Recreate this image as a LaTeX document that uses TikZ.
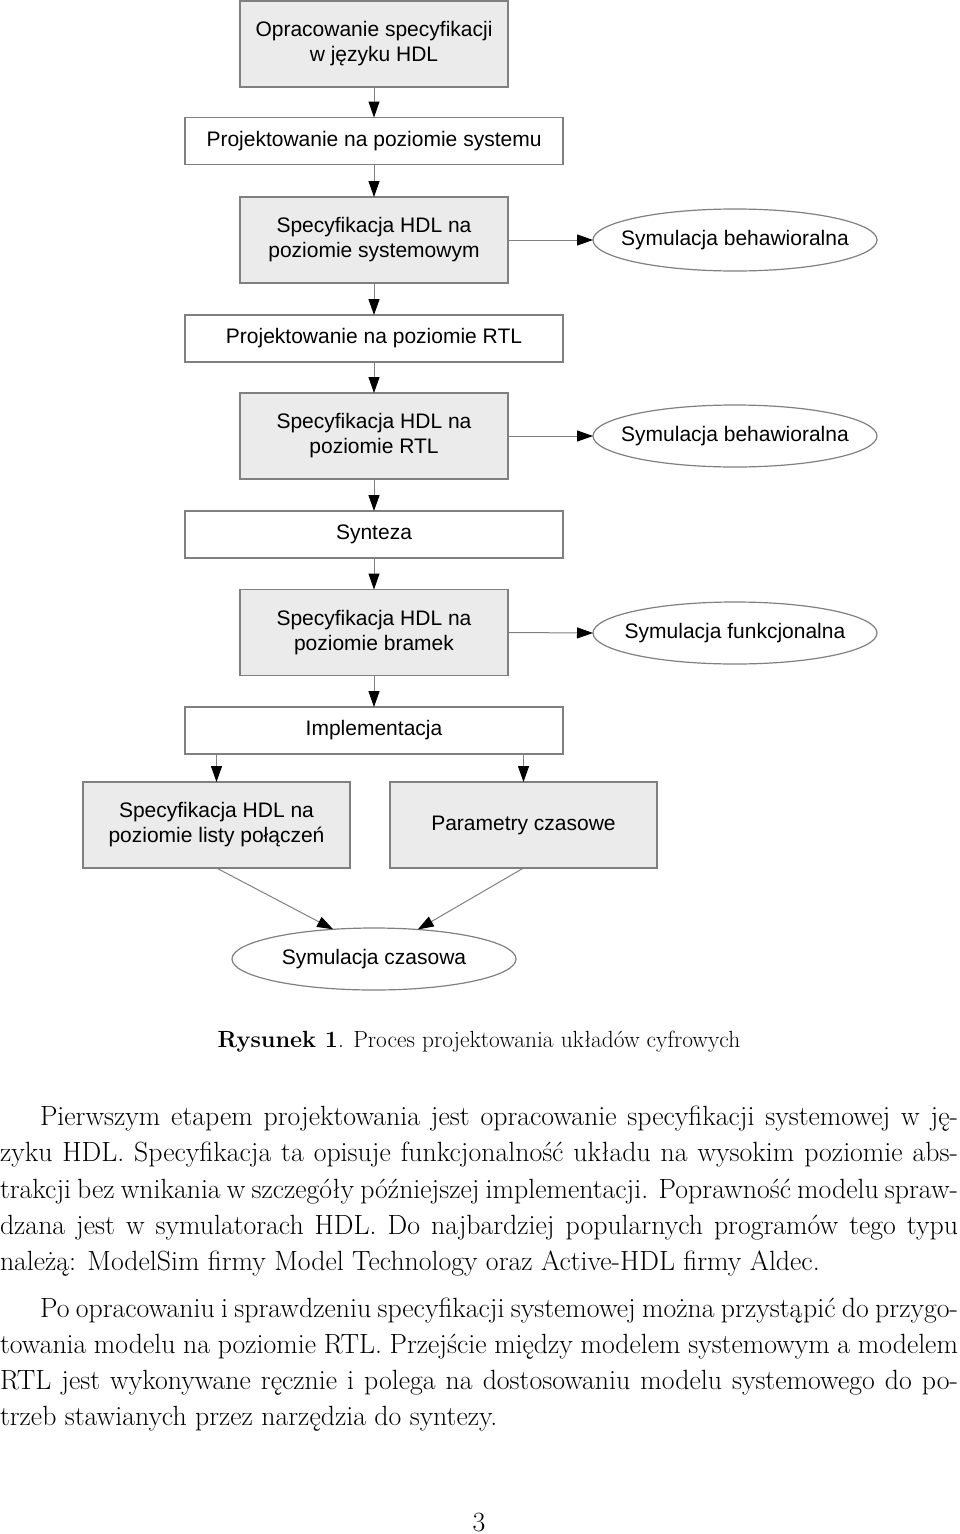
\documentclass[tikz,border=0pt]{standalone}
\usepackage{fontspec}
\newfontfamily\dfont{Liberation Sans}
\usetikzlibrary{arrows.meta,shapes.geometric,calc}
\definecolor{boxfill}{HTML}{EBEBEB}
\definecolor{edgegray}{HTML}{808080}
\begin{document}
\begin{tikzpicture}[x=1pt,y=-1pt,
  basebox/.style={draw=edgegray, line width=1.2pt, inner sep=0pt, outer sep=0pt,
    font=\dfont\fontsize{21}{25}\selectfont, align=center},
  gbox/.style={basebox, fill=boxfill, minimum width=268pt, minimum height=86pt},
  wbox/.style={basebox, fill=white, minimum width=378pt, minimum height=47pt},
  ebox/.style={basebox, ellipse, fill=white, minimum width=284pt, minimum height=62pt},
  arr/.style={draw=edgegray, line width=1pt, -{Triangle[length=16pt,width=11pt,color=black]}},
  bodyline/.style={anchor=base west, inner sep=0pt, outer sep=0pt, font=\fontsize{27.8}{36}\selectfont},
]
\useasboundingbox (0,0) rectangle (960,1534);
\fill[white] (0,0) rectangle (960,1534);

\node[gbox] (b1) at (374,44) {Opracowanie specyfikacji\\w języku HDL};
\node[wbox] (b2) at (374,141) {Projektowanie na poziomie systemu};
\node[gbox] (b3) at (374,240) {Specyfikacja HDL na\\poziomie systemowym};
\node[ebox] (e1) at (735,240) {\makebox[0pt]{Symulacja behawioralna}};
\node[wbox] (b4) at (374,338.5) {Projektowanie na poziomie RTL};
\node[gbox] (b5) at (374,436) {Specyfikacja HDL na\\poziomie RTL};
\node[ebox] (e2) at (735,436) {\makebox[0pt]{Symulacja behawioralna}};
\node[wbox] (b6) at (374,534.5) {Synteza};
\node[gbox] (b7) at (374,632.5) {Specyfikacja HDL na\\poziomie bramek};
\node[ebox] (e3) at (735,633) {\makebox[0pt]{Symulacja funkcjonalna}};
\node[wbox] (b8) at (374,730.5) {Implementacja};
\node[gbox, minimum width=267pt] (b9) at (216.5,825) {Specyfikacja HDL na\\poziomie listy połączeń};
\node[gbox, minimum width=267pt] (b10) at (523.5,825) {Parametry czasowe};
\node[ebox] (e4) at (374,959) {\makebox[0pt]{Symulacja czasowa}};

\draw[arr] (b1.south) -- (b2.north);
\draw[arr] (b2.south) -- (b3.north);
\draw[arr] (b3.south) -- (b4.north);
\draw[arr] (b4.south) -- (b5.north);
\draw[arr] (b5.south) -- (b6.north);
\draw[arr] (b6.south) -- (b7.north);
\draw[arr] (b7.south) -- (b8.north);
\draw[arr] (b3.east) -- (e1.west);
\draw[arr] (b5.east) -- (e2.west);
\draw[arr] (b7.east) -- (e3.west);
\draw[arr] (b8.south -| b9.north) -- (b9.north);
\draw[arr] (b8.south -| b10.north) -- (b10.north);
\draw[arr] (b9.south) -- (e4.144);
\draw[arr] (b10.south) -- (e4.34);

\node[anchor=base, inner sep=0pt, font=\fontsize{23.4}{28}\selectfont] (cap) at (479,1047)
  {\textbf{Rysunek 1}. Proces projektowania układów cyfrowych};

\node[bodyline] (p1a) at (40,1125) {\makebox[918pt][s]{Pierwszym etapem projektowania jest opracowanie specyfikacji systemowej w ję-}};
\node[bodyline] (p1b) at (0,1161) {\makebox[958pt][s]{zyku HDL. Specyfikacja ta opisuje funkcjonalność układu na wysokim poziomie abs-}};
\node[bodyline] (p1c) at (0,1198) {\makebox[958pt][s]{trakcji bez wnikania w szczegóły późniejszej implementacji. Poprawność modelu spraw-}};
\node[bodyline] (p1d) at (0,1234) {\makebox[958pt][s]{dzana jest w symulatorach HDL. Do najbardziej popularnych programów tego typu}};
\node[bodyline] (p1e) at (0,1270) {należą: ModelSim firmy Model Technology oraz Active-HDL firmy Aldec.};

\node[bodyline] (p2a) at (40,1317) {\makebox[918pt][s]{Po opracowaniu i sprawdzeniu specyfikacji systemowej można przystąpić do przygo-}};
\node[bodyline] (p2b) at (0,1353) {\makebox[958pt][s]{towania modelu na poziomie RTL. Przejście między modelem systemowym a modelem}};
\node[bodyline] (p2c) at (0,1389) {\makebox[958pt][s]{RTL jest wykonywane ręcznie i polega na dostosowaniu modelu systemowego do po-}};
\node[bodyline] (p2d) at (0,1425) {trzeb stawianych przez narzędzia do syntezy.};

\node[anchor=base, inner sep=0pt, font=\fontsize{27.8}{30}\selectfont] (pg) at (479,1531) {3};
\end{tikzpicture}
\end{document}
